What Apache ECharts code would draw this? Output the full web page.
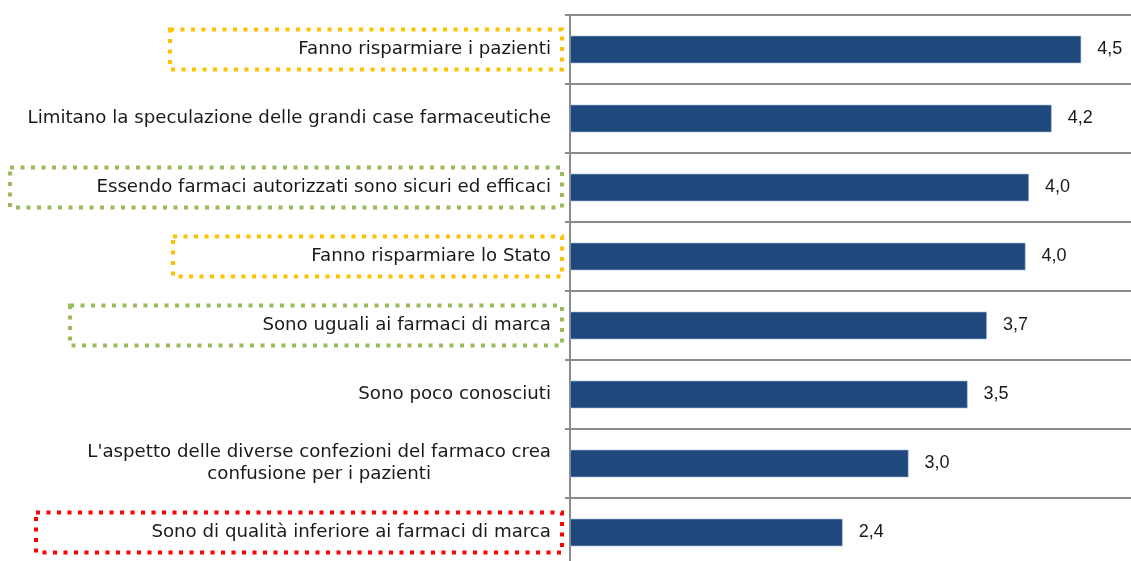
<!DOCTYPE html>
<html><head><meta charset="utf-8">
<script src="https://cdn.jsdelivr.net/npm/echarts@6/dist/echarts.min.js"></script>
<style>html,body{margin:0;padding:0;background:#fff}#c{width:1131px;height:561px}</style>
</head><body><div id="c"></div>
<script>
const categories = [
  "Fanno risparmiare i pazienti",
  "Limitano la speculazione delle grandi case farmaceutiche",
  "Essendo farmaci autorizzati sono sicuri ed efficaci",
  "Fanno risparmiare lo Stato",
  "Sono uguali ai farmaci di marca",
  "Sono poco conosciuti",
  "L'aspetto delle diverse confezioni del farmaco crea\nconfusione per i pazienti",
  "Sono di qualità inferiore ai farmaci di marca"
];
const values = [4.5, 4.24, 4.04, 4.01, 3.67, 3.50, 2.98, 2.40];
const highlight = ["orange", null, "green", "orange", "green", null, null, "red"];

// styling (not data)
const boxColors = { orange: "#FFC000", green: "#9BBB59", red: "#FF0000" };
const boxWidths = [392, 0, 552, 389, 492, 0, 0, 526];
const FONT = "DejaVu Sans";
const FS = 18.2;
const PR = 11;

const rich = {};
categories.forEach((c, i) => {
  const h = highlight[i];
  if (h) {
    rich['b' + i] = {
      width: boxWidths[i] - PR - 6, height: 24, align: 'right', lineHeight: 24,
      padding: [8, PR, 8, 6],
      borderColor: boxColors[h], borderWidth: 4, borderType: [4, 6.5],
      fontFamily: FONT, fontSize: FS, color: '#1a1a1a'
    };
  } else {
    rich['b' + i] = { align: c.includes('\n') ? 'center' : 'right', padding: [0, PR, 0, 0], lineHeight: 22,
      fontFamily: FONT, fontSize: FS, color: '#1a1a1a' };
  }
});

const chart = echarts.init(document.getElementById('c'), null, { renderer: 'canvas' });
chart.setOption({
  animation: false,
  grid: { left: 570, top: 15, width: 568, height: 552, containLabel: false, outerBoundsMode: 'none' },
  xAxis: { type: 'value', min: 0, max: 5, show: false, splitLine: { show: false } },
  yAxis: {
    type: 'category', inverse: true, data: categories,
    axisLine: { show: true, lineStyle: { color: '#8a8a8a', width: 2 } },
    axisTick: { show: true, length: 5, lineStyle: { color: '#8a8a8a', width: 2 } },
    splitLine: { show: true, lineStyle: { color: '#8a8a8a', width: 2 } },
    axisLabel: {
      margin: 8, align: 'right',
      formatter: (v, i) => v.split('\n').map(l => '{b' + i + '|' + l + '}').join('\n'),
      rich: rich
    }
  },
  series: [{
    type: 'bar', data: values, barCategoryGap: '60%',
    itemStyle: { color: '#1F497D', borderColor: '#A7BEDD', borderWidth: 0.6 },
    label: { show: true, position: 'right', distance: 16, fontFamily: 'Liberation Sans', fontSize: 18, color: '#1a1a1a',
      formatter: p => p.value.toFixed(1).replace('.', ',') }
  }]
});
</script></body></html>
